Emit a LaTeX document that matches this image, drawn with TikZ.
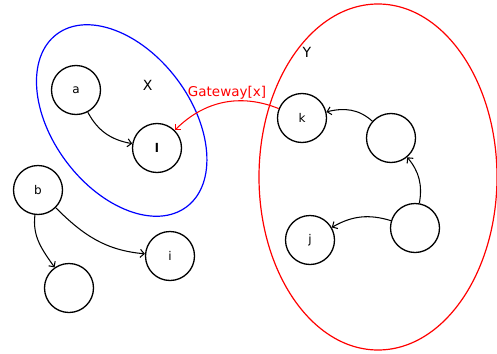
\documentclass[tikz,border=0pt]{standalone}
\usepackage{fontspec}
\setmainfont{DejaVu Sans}
\usetikzlibrary{arrows.meta}
\begin{document}
\begin{tikzpicture}[x=1pt,y=1pt,
  vtx/.style={circle,draw=black,line width=1.3pt,minimum size=49pt,inner sep=0pt,font=\fontsize{12}{14}\selectfont},
  edge/.style={draw=black,line width=1.05pt,-{Straight Barb[length=4pt,width=8pt]}},
  gate/.style={draw=red,line width=1.05pt,-{Straight Barb[length=4pt,width=8pt]}},
  setlabel/.style={font=\fontsize{14}{16}\selectfont}]
\useasboundingbox (0,0) rectangle (497,-353);
% group outlines
\draw[blue,line width=1.2pt,rotate around={-53:(121.7,-120.5)}] (121.7,-120.5) ellipse [x radius=108pt,y radius=69pt];
\draw[red,line width=1.2pt] (378,-177) ellipse [x radius=119pt,y radius=173pt];
% labels of groups
\node[setlabel] (X) at (147.7,-85) {X};
\node[setlabel] (Y) at (307,-52) {Y};
% vertices
\node[vtx] (a) at (76,-90) {a};
\node[vtx] (l) at (157,-148) {\textbf{l}};
\node[vtx] (b) at (38,-190) {b};
\node[vtx] (e1) at (69,-288) {};
\node[vtx] (i) at (170,-256) {i};
\node[vtx] (k) at (302,-118) {k};
\node[vtx] (e2) at (391,-138) {};
\node[vtx] (j) at (310,-240) {j};
\node[vtx] (e3) at (415,-228) {};
% edges
\draw[edge] (a) to[out=-62,in=170] (l);
\draw[edge] (b) to[out=-97,in=125] (e1);
\draw[edge] (b) to[out=-45,in=175] (i);
\draw[edge] (e2) to[out=138,in=14] (k);
\draw[edge] (e3) to[out=80,in=-50] (e2);
\draw[edge] (e3) to[out=163,in=30] (j);
\draw[gate] (k) to[out=158,in=45] (l);
\node[red,font=\fontsize{13.5}{15}\selectfont] (gw) at (227,-93) {Gateway[x]};
\end{tikzpicture}
\end{document}
